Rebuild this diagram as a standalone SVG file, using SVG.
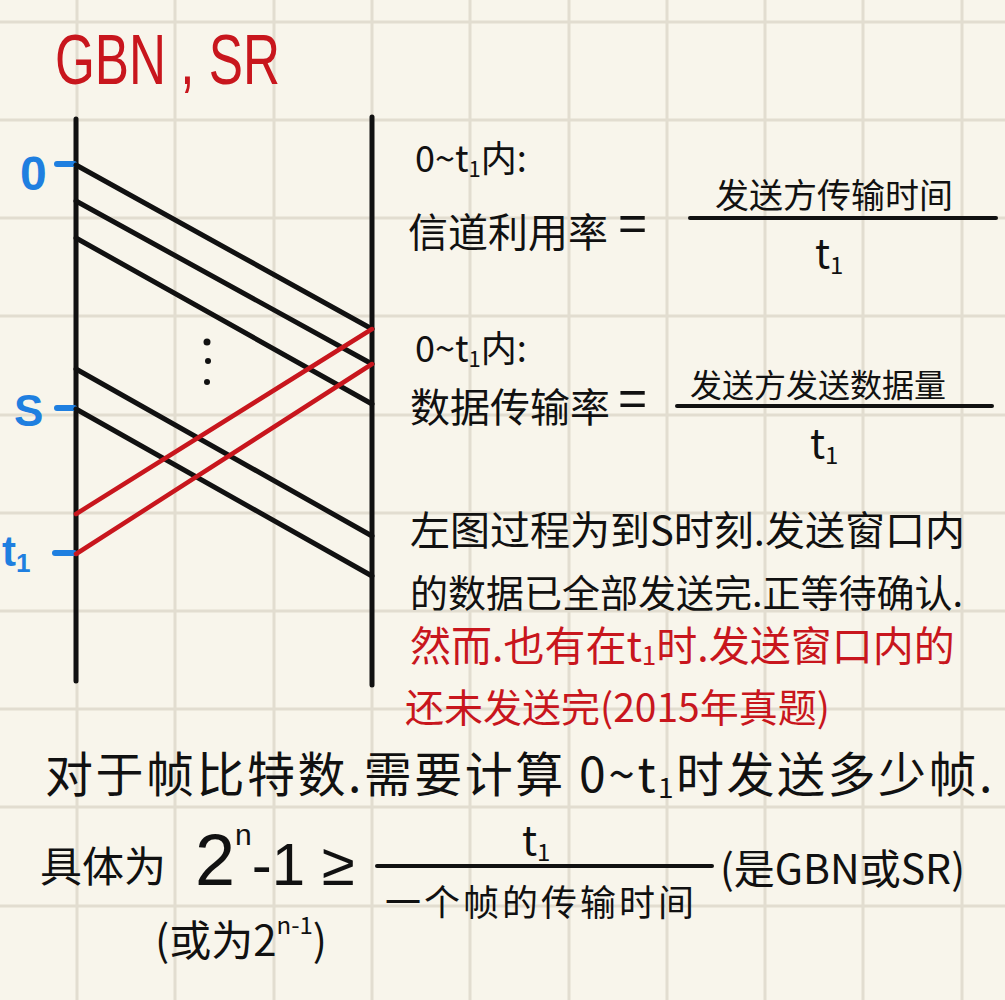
<svg xmlns="http://www.w3.org/2000/svg" width="1005" height="1000" viewBox="0 0 1005 1000">
<defs>
<style>
.grid line{stroke:#e2ddd0;stroke-width:3}
.blk{stroke:#111;stroke-width:5;stroke-linecap:round;fill:none}
.red{stroke:#c8161d;stroke-width:4.5;stroke-linecap:round;fill:none}
.tick{stroke:#1f7fe0;stroke-width:6;stroke-linecap:round}
.frac{stroke:#111;stroke-width:4;stroke-linecap:round}
text{font-family:"Noto Sans CJK SC","Liberation Sans",sans-serif;fill:#111}
.lat{font-family:"Liberation Sans","Noto Sans CJK SC",sans-serif}
.r{fill:#c8161d}
.b{fill:#1f7fe0}
</style>
</defs>
<rect width="1005" height="1000" fill="#f8f5eb"/>
<g class="grid">
<line x1="77" y1="0" x2="77" y2="1000"/><line x1="175" y1="0" x2="175" y2="1000"/><line x1="274" y1="0" x2="274" y2="1000"/><line x1="372" y1="0" x2="372" y2="1000"/><line x1="470" y1="0" x2="470" y2="1000"/><line x1="569" y1="0" x2="569" y2="1000"/><line x1="667" y1="0" x2="667" y2="1000"/><line x1="765" y1="0" x2="765" y2="1000"/><line x1="863" y1="0" x2="863" y2="1000"/><line x1="962" y1="0" x2="962" y2="1000"/>
<line x1="0" y1="22" x2="1005" y2="22"/><line x1="0" y1="120" x2="1005" y2="120"/><line x1="0" y1="218" x2="1005" y2="218"/><line x1="0" y1="316" x2="1005" y2="316"/><line x1="0" y1="415" x2="1005" y2="415"/><line x1="0" y1="513" x2="1005" y2="513"/><line x1="0" y1="611" x2="1005" y2="611"/><line x1="0" y1="709" x2="1005" y2="709"/><line x1="0" y1="807" x2="1005" y2="807"/><line x1="0" y1="906" x2="1005" y2="906"/>
</g>
<g id="title"><text class="lat r" x="55" y="84" font-size="70" textLength="225" lengthAdjust="spacingAndGlyphs">GBN , SR</text></g>
<g id="sender"><line class="blk" x1="76" y1="119" x2="76" y2="681"/></g>
<g id="receiver"><line class="blk" x1="372" y1="117" x2="372" y2="685"/></g>
<g id="time-labels">
<line class="tick" x1="57" y1="164" x2="74" y2="164"/>
<text class="lat b" x="20" y="190" font-size="48" font-weight="bold">0</text>
<line class="tick" x1="57" y1="408" x2="74" y2="408"/>
<text class="lat b" x="14" y="426" font-size="44" font-weight="bold">S</text>
<line class="tick" x1="55" y1="553" x2="74" y2="553"/>
<text class="lat b" x="2" y="566" font-size="42" font-weight="bold">t<tspan font-size="26" dy="6">1</tspan></text>
</g>
<g id="connectors">
<line class="blk" x1="76" y1="165" x2="372" y2="329"/>
<line class="blk" x1="76" y1="201" x2="372" y2="364"/>
<line class="blk" x1="76" y1="238" x2="372" y2="404"/>
<line class="blk" x1="76" y1="369" x2="372" y2="536"/>
<line class="blk" x1="76" y1="409" x2="372" y2="576"/>
<line class="red" x1="76" y1="514" x2="372" y2="329"/>
<line class="red" x1="76" y1="554" x2="372" y2="364"/>
</g>
<g id="dots"><circle cx="207" cy="342" r="3.5" fill="#111"/><circle cx="208" cy="361" r="3" fill="#111"/><circle cx="207" cy="382" r="3" fill="#111"/></g>
<g id="util">
<text x="415" y="172" font-size="36">0~t<tspan font-size="22" dy="5">1</tspan><tspan dy="-5">内:</tspan></text>
<text x="408" y="247" font-size="40">信道利用率</text>
<text class="lat" x="618" y="240" font-size="50">=</text>
<text x="715" y="208" font-size="34">发送方传输时间</text>
<line class="frac" x1="690" y1="218" x2="996" y2="218"/>
<text x="815" y="268" font-size="40">t<tspan font-size="24" dy="6">1</tspan></text>
</g>
<g id="rate">
<text x="415" y="362" font-size="36">0~t<tspan font-size="22" dy="5">1</tspan><tspan dy="-5">内:</tspan></text>
<text x="410" y="422" font-size="40">数据传输率</text>
<text class="lat" x="618" y="415" font-size="50">=</text>
<text x="690" y="397" font-size="32">发送方发送数据量</text>
<line class="frac" x1="677" y1="406" x2="992" y2="406"/>
<text x="810" y="458" font-size="40">t<tspan font-size="24" dy="6">1</tspan></text>
</g>
<g id="note">
<text x="410" y="545" font-size="40">左图过程为到S时刻.发送窗口内</text>
<text x="410" y="607" font-size="38">的数据已全部发送完.正等待确认.</text>
<text class="r" x="410" y="661" font-size="41">然而.也有在t<tspan font-size="26" dy="4">1</tspan><tspan dy="-4">时.发送窗口内的</tspan></text>
<text class="r" x="405" y="722" font-size="39">还未发送完(2015年真题)</text>
</g>
<g id="frames">
<text x="45" y="792" font-size="48" letter-spacing="2.5">对于帧比特数.需要计算 0~t<tspan font-size="28" dy="6">1</tspan><tspan dy="-6">时发送多少帧.</tspan></text>
<text x="40" y="882" font-size="42">具体为</text>
<text class="lat" x="195" y="885" font-size="72">2<tspan font-size="30" dy="-40">n</tspan><tspan dy="40" font-size="60">-1 ≥</tspan></text>
<text x="522" y="855" font-size="40">t<tspan font-size="24" dy="6">1</tspan></text>
<line class="frac" x1="377" y1="866" x2="712" y2="866"/>
<text x="385" y="916" font-size="36" letter-spacing="3">一个帧的传输时间</text>
<text x="720" y="884" font-size="41">(是GBN或SR)</text>
<text x="155" y="956" font-size="42">(或为2<tspan font-size="24" dy="-22">n-1</tspan><tspan dy="22">)</tspan></text>
</g>
</svg>
